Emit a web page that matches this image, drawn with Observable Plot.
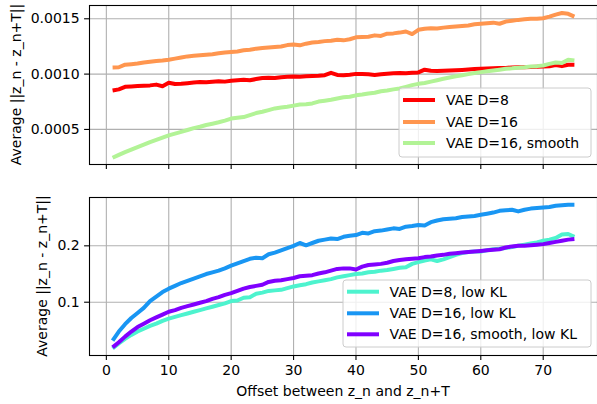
<!DOCTYPE html>
<html><head><meta charset="utf-8">
<script src="https://cdn.jsdelivr.net/npm/d3@7"></script>
<script src="https://cdn.jsdelivr.net/npm/@observablehq/plot@0.6"></script>
<style>body{margin:0;background:#fff;} #chart svg{display:block;}</style>
</head><body><div id="chart"></div><script>
const offsets = Array.from({length: 75}, (_, i) => i + 1);
const xTicks = [0, 10, 20, 30, 40, 50, 60, 70];

const topNames = ["VAE D=8", "VAE D=16", "VAE D=16, smooth"];
const topColors = ["#ff0000", "#ff964f", "#b2f396"];
const topTicks = [0.0005, 0.0010, 0.0015];
const vaeD8 = [0.000852,0.000862,0.000885,0.000888,0.000892,0.000895,0.000898,0.000905,0.000890,0.000922,
0.000910,0.000912,0.000918,0.000925,0.000928,0.000926,0.000930,0.000935,0.000932,0.000940,
0.000945,0.000948,0.000944,0.000955,0.000965,0.000968,0.000965,0.000972,0.000975,0.000978,
0.000975,0.000980,0.000982,0.000985,0.000990,0.001012,0.000992,0.000990,0.000995,0.001002,
0.001000,0.000998,0.000992,0.000998,0.001003,0.001008,0.001010,0.001008,0.001012,0.001015,
0.001040,0.001030,0.001028,0.001030,0.001032,0.001035,0.001038,0.001042,0.001045,0.001048,
0.001050,0.001052,0.001055,0.001056,0.001060,0.001062,0.001063,0.001065,0.001066,0.001068,
0.001070,0.001082,0.001072,0.001085,0.001084];
const vaeD16 = [0.001060,0.001062,0.001085,0.001090,0.001095,0.001105,0.001112,0.001118,0.001122,0.001130,
0.001140,0.001150,0.001160,0.001165,0.001170,0.001175,0.001180,0.001188,0.001195,0.001200,
0.001205,0.001215,0.001220,0.001230,0.001236,0.001240,0.001245,0.001250,0.001262,0.001268,
0.001260,0.001275,0.001285,0.001290,0.001298,0.001302,0.001310,0.001305,0.001315,0.001332,
0.001335,0.001338,0.001350,0.001345,0.001365,0.001368,0.001375,0.001385,0.001362,0.001400,
0.001410,0.001415,0.001412,0.001420,0.001425,0.001430,0.001435,0.001440,0.001450,0.001455,
0.001460,0.001465,0.001455,0.001475,0.001482,0.001490,0.001495,0.001500,0.001500,0.001505,
0.001520,0.001538,0.001552,0.001545,0.001520];
const vaeD16smooth = [0.000244,0.000270,0.000295,0.000318,0.000340,0.000362,0.000385,0.000405,0.000425,0.000446,
0.000462,0.000478,0.000495,0.000512,0.000524,0.000540,0.000552,0.000565,0.000580,0.000598,
0.000605,0.000612,0.000630,0.000648,0.000660,0.000675,0.000690,0.000698,0.000705,0.000715,
0.000725,0.000728,0.000735,0.000752,0.000760,0.000768,0.000780,0.000790,0.000795,0.000808,
0.000815,0.000825,0.000832,0.000845,0.000852,0.000862,0.000870,0.000885,0.000900,0.000912,
0.000920,0.000932,0.000945,0.000958,0.000970,0.000980,0.000990,0.001000,0.001010,0.001018,
0.001025,0.001032,0.001040,0.001048,0.001052,0.001058,0.001062,0.001068,0.001072,0.001078,
0.001092,0.001105,0.001100,0.001130,0.001124];

const botNames = ["VAE D=8, low KL", "VAE D=16, low KL", "VAE D=16, smooth, low KL"];
const botColors = ["#4df3ce", "#1996f3", "#8000ff"];
const botTicks = [0.1, 0.2];
const vaeD8low = [0.018,0.027,0.035,0.042,0.048,0.053,0.058,0.062,0.067,0.071,
0.074,0.077,0.080,0.083,0.086,0.089,0.092,0.095,0.098,0.102,
0.103,0.108,0.109,0.115,0.117,0.120,0.121,0.122,0.125,0.128,
0.130,0.132,0.135,0.137,0.139,0.141,0.144,0.146,0.148,0.150,
0.151,0.153,0.154,0.156,0.157,0.159,0.161,0.162,0.168,0.171,
0.174,0.176,0.173,0.176,0.180,0.184,0.187,0.189,0.190,0.190,
0.192,0.194,0.195,0.196,0.198,0.200,0.202,0.204,0.206,0.209,
0.211,0.214,0.220,0.221,0.216];
const vaeD16low = [0.032,0.048,0.061,0.072,0.081,0.090,0.102,0.110,0.118,0.124,
0.129,0.134,0.138,0.142,0.146,0.150,0.153,0.156,0.160,0.165,
0.169,0.173,0.177,0.179,0.178,0.185,0.188,0.192,0.196,0.200,
0.205,0.201,0.205,0.209,0.211,0.213,0.212,0.216,0.218,0.219,
0.223,0.222,0.226,0.227,0.229,0.231,0.230,0.234,0.235,0.237,
0.236,0.242,0.245,0.247,0.248,0.249,0.251,0.252,0.253,0.255,
0.257,0.259,0.262,0.263,0.264,0.261,0.264,0.266,0.267,0.268,
0.269,0.271,0.272,0.273,0.273];
const vaeD16smoothLow = [0.020,0.029,0.039,0.048,0.056,0.062,0.068,0.073,0.078,0.083,
0.086,0.090,0.093,0.096,0.099,0.102,0.106,0.109,0.113,0.116,
0.120,0.124,0.127,0.129,0.131,0.136,0.138,0.139,0.141,0.143,
0.146,0.147,0.148,0.151,0.153,0.156,0.159,0.160,0.160,0.158,
0.163,0.166,0.167,0.168,0.170,0.173,0.175,0.176,0.177,0.178,
0.180,0.181,0.183,0.184,0.186,0.187,0.188,0.189,0.190,0.191,
0.192,0.193,0.194,0.197,0.199,0.200,0.200,0.201,0.202,0.203,
0.205,0.207,0.209,0.211,0.212];

const yLabel = "Average ||z_n - z_n+T||";
const xLabel = "Offset between z_n and z_n+T";
const FONT = "DejaVu Sans";

function panel({series, names, colors, yDomain, yTicks, yFormat, height, marginTop, marginBottom, showX}) {
  const rows = [];
  series.forEach((vals, k) => vals.forEach((v, i) => rows.push({x: offsets[i], y: v, s: names[k]})));
  return Plot.plot({
    width: 597, height, marginLeft: 89, marginRight: 0, marginTop, marginBottom,
    style: {fontFamily: FONT, fontSize: "14px", background: "white", color: "black", overflow: "visible"},
    x: {domain: [-2.7, 78.7], label: null},
    y: {domain: yDomain, label: null},
    color: {domain: names, range: colors},
    marks: [
      Plot.gridX({ticks: xTicks, stroke: "#b0b0b0", strokeOpacity: 1, strokeWidth: 1.1}),
      Plot.gridY({ticks: yTicks, stroke: "#b0b0b0", strokeOpacity: 1, strokeWidth: 1.1}),
      Plot.lineY(rows, {x: "x", y: "y", z: "s", stroke: "s", strokeWidth: 4, strokeLinejoin: "round", strokeLinecap: "butt"}),
      Plot.frame({stroke: "black", strokeWidth: 1.1}),
      Plot.axisX({ticks: xTicks, tickSize: 4.9, tickPadding: 4.9, strokeWidth: 1.1, label: null,
        tickFormat: showX ? (d => String(d)) : (() => "")}),
      Plot.axisY({ticks: yTicks, tickSize: 4.9, tickPadding: 4.9, strokeWidth: 1.1, label: null, tickFormat: yFormat})
    ]
  });
}

function legend(svg, box, lineX, lineY, textX, names, colors) {
  const g = d3.select(svg).append("g").attr("text-anchor", "start");
  g.append("rect").attr("x", box[0]).attr("y", box[1]).attr("width", box[2] - box[0]).attr("height", box[3] - box[1])
    .attr("rx", 3).attr("ry", 3)
    .style("fill", "white").style("fill-opacity", 0.8).style("stroke", "#cccccc").style("stroke-width", "1px");
  names.forEach((n, i) => {
    g.append("line").attr("x1", lineX[0]).attr("x2", lineX[1]).attr("y1", lineY[i]).attr("y2", lineY[i])
      .style("stroke", colors[i]).style("stroke-width", "4px");
    g.append("text").attr("x", textX).attr("y", lineY[i] + 5).attr("text-anchor", "start")
      .style("font-family", FONT).style("font-size", "14px").style("fill", "black").text(n);
  });
}

function yTitle(svg, x, y) {
  d3.select(svg).append("text").attr("transform", `translate(${x},${y}) rotate(-90)`)
    .attr("text-anchor", "middle").style("font-family", FONT).style("font-size", "14px").style("fill", "black").text(yLabel);
}

const topSvg = panel({series: [vaeD8, vaeD16, vaeD16smooth], names: topNames, colors: topColors,
  yDomain: [0.000183, 0.00162], yTicks: topTicks, yFormat: d3.format(".4f"),
  height: 185, marginTop: 5, marginBottom: 21, showX: false});
legend(topSvg, [399, 88, 591, 157], [403, 435], [100, 122, 143], 446, topNames, topColors);
yTitle(topSvg, 20.5, 84.5);

const botSvg = panel({series: [vaeD8low, vaeD16low, vaeD16smoothLow], names: botNames, colors: botColors,
  yDomain: [0.0055, 0.2857], yTicks: botTicks, yFormat: d3.format(".1f"),
  height: 219, marginTop: 12, marginBottom: 49, showX: true});
legend(botSvg, [343, 95, 591, 162], [347, 379], [106.7, 128.3, 149.3], 389.5, botNames, botColors);
yTitle(botSvg, 47, 91);
d3.select(botSvg).append("text").attr("x", 343).attr("y", 210.5).attr("text-anchor", "middle")
  .style("font-family", FONT).style("font-size", "14px").style("fill", "black").text(xLabel);

const c = document.getElementById("chart");
c.appendChild(topSvg);
c.appendChild(botSvg);
</script></body></html>
